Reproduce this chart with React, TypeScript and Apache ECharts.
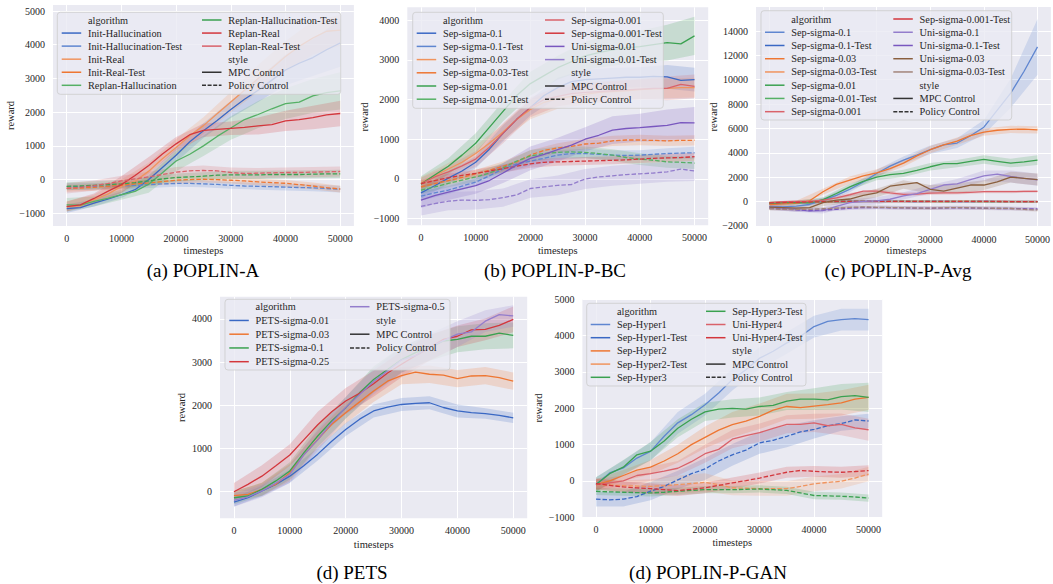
import React, { useEffect, useRef } from "react";
import * as echarts from "echarts";

// x positions of line samples and band samples
const XS = [0, 2500, 5000, 7500, 10000, 12500, 15000, 17500, 20000, 22500, 25000, 27500, 30000, 32500, 35000, 37500, 40000, 42500, 45000, 47500, 50000];
const XB = [0, 5000, 10000, 15000, 20000, 25000, 30000, 35000, 40000, 45000, 50000];
const X_TICKS = [0, 10000, 20000, 30000, 40000, 50000];

const A_Y_TICKS = [-1000, 0, 1000, 2000, 3000, 4000, 5000];
const B_Y_TICKS = [-1000, 0, 1000, 2000, 3000, 4000];
const C_Y_TICKS = [-2000, 0, 2000, 4000, 6000, 8000, 10000, 12000, 14000];
const D_Y_TICKS = [0, 1000, 2000, 3000, 4000];
const E_Y_TICKS = [-1000, 0, 1000, 2000, 3000, 4000, 5000];

// (a) POPLIN-A
const A_INIT_HALL = [-860, -830, -700, -580, -450, -300, 0, 360, 720, 1120, 1450, 1750, 2080, 2380, 2650, 2950, 3250, 3450, 3620, 3850, 4050];
const A_INIT_HALL_HW = [130, 100, 100, 150, 200, 220, 250, 350, 450, 550, 700];
const A_INIT_HALL_T = [-210, -210, -205, -200, -190, -175, -150, -130, -115, -115, -125, -145, -170, -190, -200, -210, -225, -235, -245, -265, -285];
const A_INIT_HALL_T_HW = [100, 100, 100, 100, 100, 100, 100, 100, 100, 100, 100];
const A_INIT_REAL = [-800, -780, -600, -430, -200, -50, 250, 620, 950, 1300, 1600, 1950, 2300, 2650, 3000, 3300, 3650, 3950, 4200, 4400, 4430];
const A_INIT_REAL_HW = [150, 150, 200, 250, 250, 250, 300, 400, 450, 500, 450];
const A_INIT_REAL_T = [-260, -250, -230, -200, -170, -130, -100, -60, -20, 0, 10, 0, -20, -40, -70, -90, -110, -150, -190, -240, -280];
const A_INIT_REAL_T_HW = [100, 100, 100, 100, 100, 100, 100, 100, 100, 100, 100];
const A_REPLAN_HALL = [-750, -760, -650, -560, -450, -350, -140, 200, 550, 750, 1000, 1280, 1530, 1780, 1930, 2100, 2250, 2300, 2480, 2580, 2630];
const A_REPLAN_HALL_HW = [200, 150, 150, 250, 300, 300, 350, 400, 450, 500, 550];
const A_REPLAN_HALL_T = [-200, -190, -170, -150, -130, -90, -40, 20, 60, 80, 100, 130, 140, 140, 140, 150, 150, 150, 160, 170, 170];
const A_REPLAN_HALL_T_HW = [120, 120, 120, 120, 120, 120, 120, 120, 120, 120, 120];
const A_REPLAN_REAL = [-800, -750, -560, -350, -150, 120, 420, 760, 1060, 1330, 1460, 1490, 1520, 1550, 1590, 1630, 1740, 1780, 1840, 1920, 1960];
const A_REPLAN_REAL_HW = [150, 150, 250, 250, 200, 200, 200, 250, 300, 350, 380];
const A_REPLAN_REAL_T = [-260, -230, -180, -120, -40, 20, 80, 150, 220, 260, 270, 260, 210, 180, 190, 200, 210, 210, 220, 230, 240];
const A_REPLAN_REAL_T_HW = [150, 150, 150, 150, 150, 150, 150, 150, 150, 150, 150];

// (b) POPLIN-P-BC
const B_S01 = [-350, -170, 20, 200, 420, 750, 1150, 1500, 1800, 2100, 2300, 2450, 2500, 2520, 2540, 2560, 2560, 2580, 2570, 2480, 2500];
const B_S01_HW = [150, 150, 150, 200, 200, 250, 250, 250, 250, 300, 300];
const B_S01_T = [-430, -350, -280, -180, -80, 80, 250, 380, 450, 520, 600, 640, 640, 620, 600, 590, 600, 620, 640, 650, 660];
const B_S01_T_HW = [120, 100, 100, 100, 120, 120, 120, 120, 120, 130, 150];
const B_S003 = [-100, 80, 250, 420, 640, 900, 1180, 1500, 1750, 1930, 2020, 2080, 2130, 2180, 2200, 2220, 2250, 2270, 2280, 2300, 2300];
const B_S003_HW = [150, 150, 200, 200, 250, 250, 250, 250, 250, 250, 250];
const B_S003_T = [-200, -120, -40, 40, 130, 220, 320, 430, 600, 720, 780, 820, 880, 900, 960, 980, 980, 970, 960, 970, 970];
const B_S003_T_HW = [100, 100, 100, 120, 120, 120, 130, 130, 130, 130, 130];
const B_S001 = [-130, 100, 320, 600, 900, 1300, 1700, 2100, 2400, 2600, 2800, 2950, 3100, 3180, 3250, 3300, 3330, 3380, 3430, 3400, 3600];
const B_S001_HW = [200, 200, 250, 250, 300, 300, 350, 400, 400, 450, 480];
const B_S001_T = [-280, -200, -110, -30, 50, 150, 280, 450, 580, 640, 670, 680, 670, 640, 600, 540, 500, 470, 430, 420, 400];
const B_S001_T_HW = [100, 100, 120, 120, 150, 150, 150, 150, 150, 150, 150];
const B_S0001 = [-120, 50, 180, 330, 500, 800, 1150, 1500, 1800, 2000, 2080, 2150, 2180, 2200, 2220, 2240, 2260, 2280, 2280, 2380, 2330];
const B_S0001_HW = [150, 150, 200, 250, 250, 250, 250, 250, 250, 300, 300];
const B_S0001_T = [-120, -40, 30, 90, 140, 200, 260, 320, 380, 420, 430, 440, 450, 460, 470, 480, 500, 520, 530, 540, 560];
const B_S0001_T_HW = [100, 100, 100, 100, 100, 100, 100, 100, 100, 100, 100];
const B_U001 = [-530, -420, -330, -250, -170, -40, 150, 350, 520, 620, 740, 850, 1000, 1100, 1230, 1270, 1290, 1320, 1350, 1420, 1410];
const B_U001_HW = [200, 200, 200, 250, 300, 300, 300, 350, 350, 400, 400];
const B_U001_T = [-690, -620, -560, -530, -540, -520, -470, -400, -240, -200, -160, -140, 0, 50, 80, 110, 130, 150, 180, 250, 200];
const B_U001_T_HW = [230, 230, 230, 230, 230, 250, 250, 250, 250, 250, 250];

// (c) POPLIN-P-Avg
const C_S01 = [-400, -450, -380, -250, 100, 500, 1000, 1600, 2300, 2900, 3400, 3800, 4250, 4650, 4800, 5400, 6100, 7500, 8900, 10700, 12700];
const C_S01_HW = [200, 200, 200, 250, 300, 300, 350, 400, 600, 1200, 2300];
const C_S01_T = [-200, -150, -100, -60, -30, -10, 0, 0, 10, 0, 0, -10, 0, 0, -10, -10, 0, -10, -10, -20, -20];
const C_S01_T_HW = [100, 100, 100, 100, 100, 100, 100, 100, 100, 100, 100];
const C_S003 = [-250, -200, -150, 50, 800, 1400, 1750, 2100, 2350, 2700, 3150, 3750, 4250, 4650, 4950, 5400, 5700, 5850, 5920, 5950, 5880];
const C_S003_HW = [200, 200, 250, 300, 300, 300, 300, 300, 300, 300, 300];
const C_S003_T = [-150, -120, -100, -80, -40, -20, -10, 0, 0, 10, 0, 0, -10, -10, 0, 0, -10, -10, -20, -20, -30];
const C_S003_T_HW = [100, 100, 100, 100, 100, 100, 100, 100, 100, 100, 100];
const C_S001 = [-150, -100, -100, -120, 150, 650, 1200, 1650, 2000, 2200, 2300, 2550, 2850, 3100, 3100, 3300, 3450, 3300, 3150, 3250, 3400];
const C_S001_HW = [150, 150, 200, 250, 250, 300, 300, 300, 350, 350, 400];
const C_S001_T = [-100, -80, -60, -50, -30, -10, 0, 10, 0, 0, 10, 0, 0, -10, 0, 0, -10, -10, -10, -20, -20];
const C_S001_T_HW = [100, 100, 100, 100, 100, 100, 100, 100, 100, 100, 100];
const C_S0001 = [-100, -20, 0, 0, 100, 300, 550, 850, 850, 700, 580, 600, 680, 700, 700, 750, 800, 800, 800, 820, 830];
const C_S0001_HW = [100, 100, 150, 150, 150, 150, 150, 120, 120, 120, 120];
const C_S0001_T = [-120, -90, -70, -50, -20, 0, 0, 0, 0, 0, 0, 0, 0, 0, 0, 0, 0, 0, -10, -10, -20];
const C_S0001_T_HW = [100, 100, 100, 100, 100, 100, 100, 100, 100, 100, 100];
const C_U01 = [-450, -500, -650, -800, -750, -400, -100, 0, 50, 180, 450, 650, 1000, 1350, 1450, 1800, 2100, 2250, 2050, 1900, 1780];
const C_U01_HW = [200, 200, 250, 300, 300, 300, 350, 400, 450, 500, 500];
const C_U01_T = [-550, -600, -700, -750, -700, -650, -550, -500, -500, -520, -530, -550, -560, -540, -530, -540, -560, -580, -580, -600, -620];
const C_U01_T_HW = [150, 150, 150, 150, 150, 150, 150, 150, 150, 150, 150];
const C_U003 = [-470, -500, -550, -500, -100, 100, 200, 500, 700, 1250, 1400, 1550, 1000, 850, 1100, 1350, 1350, 1600, 2000, 1900, 1800];
const C_U003_HW = [200, 200, 300, 300, 350, 350, 350, 400, 400, 450, 500];
const C_U003_T = [-600, -650, -650, -650, -600, -550, -480, -450, -480, -500, -520, -540, -550, -520, -500, -520, -550, -560, -580, -650, -700];
const C_U003_T_HW = [150, 150, 150, 150, 150, 150, 150, 150, 150, 150, 150];

// (d) PETS
const D_001 = [-240, -140, 16, 170, 360, 600, 870, 1170, 1440, 1680, 1870, 1960, 2020, 2045, 2060, 1950, 1870, 1830, 1810, 1770, 1710];
const D_001_HW = [100, 120, 150, 150, 150, 150, 150, 150, 150, 120, 120];
const D_003 = [-90, -60, 55, 170, 440, 860, 1210, 1560, 1830, 2080, 2330, 2560, 2690, 2770, 2720, 2700, 2620, 2680, 2690, 2640, 2560];
const D_003_HW = [100, 150, 200, 200, 250, 250, 200, 200, 200, 200, 200];
const D_01 = [-140, -100, 55, 250, 480, 900, 1290, 1640, 1940, 2290, 2600, 2830, 3060, 3220, 3330, 3490, 3530, 3600, 3600, 3670, 3620];
const D_01_HW = [150, 150, 200, 250, 250, 300, 300, 300, 300, 300, 300];
const D_025 = [0, 170, 360, 600, 850, 1200, 1550, 1850, 2100, 2280, 2500, 2750, 2950, 3150, 3330, 3530, 3600, 3750, 3760, 3850, 3990];
const D_025_HW = [200, 250, 250, 300, 300, 300, 300, 300, 250, 250, 300];
const D_05 = [-200, -120, 20, 200, 400, 850, 1200, 1600, 1950, 2250, 2550, 2800, 3050, 3150, 3350, 3500, 3650, 3700, 3950, 4100, 4070];
const D_05_HW = [150, 150, 200, 250, 250, 300, 300, 300, 300, 250, 250];

// (d) POPLIN-P-GAN
const E_H1 = [-100, 220, 360, 630, 815, 1230, 1600, 1825, 2100, 2420, 2790, 3060, 3380, 3570, 3800, 3980, 4250, 4390, 4440, 4470, 4440];
const E_H1_HW = [200, 200, 250, 300, 300, 300, 300, 300, 300, 300, 300];
const E_H1_T = [-500, -520, -500, -430, -280, -150, 30, 200, 330, 550, 720, 850, 1050, 1120, 1230, 1350, 1420, 1520, 1580, 1680, 1650];
const E_H1_T_HW = [200, 200, 250, 250, 300, 300, 300, 300, 250, 200, 200];
const E_H2 = [-100, 0, 150, 300, 380, 550, 750, 1000, 1200, 1400, 1550, 1650, 1780, 1950, 2050, 2020, 2060, 2100, 2150, 2250, 2300];
const E_H2_HW = [150, 150, 200, 250, 300, 350, 350, 350, 350, 350, 350];
const E_H2_T = [-100, -110, -130, -140, -150, -130, -100, -70, -40, -100, -190, -200, -210, -210, -210, -150, -80, -40, -10, 80, 190];
const E_H2_T_HW = [150, 150, 200, 250, 250, 200, 200, 200, 200, 200, 200];
const E_H3 = [-100, 200, 380, 720, 820, 1100, 1450, 1700, 1900, 1980, 2000, 1980, 2050, 2080, 2200, 2250, 2250, 2230, 2320, 2350, 2300];
const E_H3_HW = [200, 200, 250, 250, 250, 250, 250, 250, 300, 350, 400];
const E_H3_T = [-285, -300, -310, -320, -330, -310, -285, -260, -240, -240, -240, -230, -220, -240, -260, -330, -400, -410, -420, -440, -470];
const E_H3_T_HW = [100, 100, 100, 100, 100, 100, 100, 100, 100, 100, 100];
const E_U4 = [-100, -50, 0, 150, 200, 270, 350, 530, 750, 870, 1150, 1250, 1330, 1450, 1560, 1560, 1600, 1520, 1560, 1460, 1410];
const E_U4_HW = [150, 150, 200, 200, 250, 250, 250, 250, 250, 300, 300];
const E_U4_T = [-75, -120, -165, -190, -210, -240, -265, -230, -190, -120, -55, 10, 80, 160, 240, 290, 265, 250, 240, 260, 285];
const E_U4_T_HW = [150, 150, 150, 150, 150, 150, 150, 150, 150, 150, 150];

const BLUE = "#3a68c4", BLUE_L = "#5f86d0";
const ORANGE = "#ee7632", ORANGE_L = "#f0945e";
const GREEN = "#3aa150", GREEN_L = "#55b065";
const RED = "#d3363c", RED_L = "#d9626a";
const PURPLE = "#7957bf", PURPLE_L = "#937dcc";
const BROWN = "#8a5f3e", BROWN_L = "#a3857a";

const SERIF = "Liberation Serif";
const TXT = "#262626";

type Line = { name: string; color: string; dashed: boolean; y: number[]; hw: number[] | null };
type Panel = {
  grid: { left: number; top: number; width: number; height: number };
  ymin: number; ymax: number; yTicks: number[];
  lines: Line[];
  legend: { box: number[]; col1: number; col2: number; row0: number; step: number };
  yName: number[]; xName: number[];
  caption: { text: string; x: number; y: number };
};

const L = (name: string, color: string, dashed: boolean, y: number[], hw: number[] | null): Line => ({ name, color, dashed, y, hw });

const PANELS: Panel[] = [
  {
    grid: { left: 53, top: 5, width: 300.9, height: 221 }, ymin: -1377, ymax: 5178, yTicks: A_Y_TICKS,
    lines: [
      L("Init-Hallucination", BLUE, false, A_INIT_HALL, A_INIT_HALL_HW),
      L("Init-Hallucination-Test", BLUE_L, true, A_INIT_HALL_T, A_INIT_HALL_T_HW),
      L("Init-Real", ORANGE_L, false, A_INIT_REAL, A_INIT_REAL_HW),
      L("Init-Real-Test", ORANGE, true, A_INIT_REAL_T, A_INIT_REAL_T_HW),
      L("Replan-Hallucination", GREEN_L, false, A_REPLAN_HALL, A_REPLAN_HALL_HW),
      L("Replan-Hallucination-Test", GREEN, true, A_REPLAN_HALL_T, A_REPLAN_HALL_T_HW),
      L("Replan-Real", RED, false, A_REPLAN_REAL, A_REPLAN_REAL_HW),
      L("Replan-Real-Test", RED_L, true, A_REPLAN_REAL_T, A_REPLAN_REAL_T_HW),
    ],
    legend: { box: [57.3, 12.3, 283.4, 82], col1: 61.7, col2: 202, row0: 20, step: 13.06 },
    yName: [10, 115.5], xName: [203.4, 250], caption: { text: "(a) POPLIN-A", x: 203, y: 270 },
  },
  {
    grid: { left: 407.3, top: 7.3, width: 300.9, height: 218 }, ymin: -1166, ymax: 4320, yTicks: B_Y_TICKS,
    lines: [
      L("Sep-sigma-0.1", BLUE, false, B_S01, B_S01_HW),
      L("Sep-sigma-0.1-Test", BLUE_L, true, B_S01_T, B_S01_T_HW),
      L("Sep-sigma-0.03", ORANGE_L, false, B_S003, B_S003_HW),
      L("Sep-sigma-0.03-Test", ORANGE, true, B_S003_T, B_S003_T_HW),
      L("Sep-sigma-0.01", GREEN, false, B_S001, B_S001_HW),
      L("Sep-sigma-0.01-Test", GREEN_L, true, B_S001_T, B_S001_T_HW),
      L("Sep-sigma-0.001", RED_L, false, B_S0001, B_S0001_HW),
      L("Sep-sigma-0.001-Test", RED, true, B_S0001_T, B_S0001_T_HW),
      L("Uni-sigma-0.01", PURPLE, false, B_U001, B_U001_HW),
      L("Uni-sigma-0.01-Test", PURPLE_L, true, B_U001_T, B_U001_T_HW),
    ],
    legend: { box: [412.7, 12.3, 250.6, 96], col1: 416.7, col2: 545, row0: 20, step: 13.2 },
    yName: [364, 117], xName: [557.75, 250], caption: { text: "(b) POPLIN-P-BC", x: 555, y: 270 },
  },
  {
    grid: { left: 756, top: 7, width: 300.9, height: 220 }, ymin: -2100, ymax: 15977, yTicks: C_Y_TICKS,
    lines: [
      L("Sep-sigma-0.1", BLUE_L, false, C_S01, C_S01_HW),
      L("Sep-sigma-0.1-Test", BLUE, true, C_S01_T, C_S01_T_HW),
      L("Sep-sigma-0.03", ORANGE, false, C_S003, C_S003_HW),
      L("Sep-sigma-0.03-Test", ORANGE_L, true, C_S003_T, C_S003_T_HW),
      L("Sep-sigma-0.01", GREEN, false, C_S001, C_S001_HW),
      L("Sep-sigma-0.01-Test", GREEN_L, true, C_S001_T, C_S001_T_HW),
      L("Sep-sigma-0.001", RED_L, false, C_S0001, C_S0001_HW),
      L("Sep-sigma-0.001-Test", RED, true, C_S0001_T, C_S0001_T_HW),
      L("Uni-sigma-0.1", PURPLE_L, false, C_U01, C_U01_HW),
      L("Uni-sigma-0.1-Test", PURPLE, true, C_U01_T, C_U01_T_HW),
      L("Uni-sigma-0.03", BROWN, false, C_U003, C_U003_HW),
      L("Uni-sigma-0.03-Test", BROWN_L, true, C_U003_T, C_U003_T_HW),
    ],
    legend: { box: [761, 10.7, 250.7, 109.3], col1: 765, col2: 893.3, row0: 19, step: 13.24 },
    yName: [713, 117], xName: [906.4, 250], caption: { text: "(c) POPLIN-P-Avg", x: 898, y: 270 },
  },
  {
    grid: { left: 220, top: 296.7, width: 307.2, height: 221.6 }, ymin: -616, ymax: 4516, yTicks: D_Y_TICKS,
    lines: [
      L("PETS-sigma-0.01", BLUE, false, D_001, D_001_HW),
      L("PETS-sigma-0.03", ORANGE, false, D_003, D_003_HW),
      L("PETS-sigma-0.1", GREEN, false, D_01, D_01_HW),
      L("PETS-sigma-0.25", RED, false, D_025, D_025_HW),
      L("PETS-sigma-0.5", PURPLE_L, false, D_05, D_05_HW),
    ],
    legend: { box: [225, 299.3, 225, 70.7], col1: 229.3, col2: 350, row0: 306.7, step: 13.75 },
    yName: [181.7, 407.5], xName: [373.7, 544], caption: { text: "(d) PETS", x: 352, y: 572 },
  },
  {
    grid: { left: 582.4, top: 299.3, width: 299.8, height: 218 }, ymin: -1000, ymax: 5000, yTicks: E_Y_TICKS,
    lines: [
      L("Sep-Hyper1", BLUE_L, false, E_H1, E_H1_HW),
      L("Sep-Hyper1-Test", BLUE, true, E_H1_T, E_H1_T_HW),
      L("Sep-Hyper2", ORANGE, false, E_H2, E_H2_HW),
      L("Sep-Hyper2-Test", ORANGE_L, true, E_H2_T, E_H2_T_HW),
      L("Sep-Hyper3", GREEN, false, E_H3, E_H3_HW),
      L("Sep-Hyper3-Test", GREEN, true, E_H3_T, E_H3_T_HW),
      L("Uni-Hyper4", RED_L, false, E_U4, E_U4_HW),
      L("Uni-Hyper4-Test", RED, true, E_U4_T, E_U4_T_HW),
    ],
    legend: { box: [586.7, 303.3, 219.3, 82.7], col1: 590.7, col2: 706, row0: 311.3, step: 13.2 },
    yName: [538.3, 408], xName: [732.25, 542], caption: { text: "(d) POPLIN-P-GAN", x: 708, y: 572 },
  },
];

const fmtY = (v: number) => (v < 0 ? "\u2212" + Math.abs(v) : String(v));
const fmtX = (v: number) => String(v);

function textEl(text: string, x: number, y: number, size: number, opts: any = {}) {
  return {
    type: "text", x, y, z: 100, rotation: opts.rotation || 0,
    style: {
      text, fontSize: size, fontFamily: SERIF, fill: opts.fill || TXT,
      font: size + "px " + SERIF,
      align: opts.align || "left", textAlign: opts.align || "left",
      verticalAlign: "middle", textVerticalAlign: "middle",
    },
  };
}

function buildOption() {
  const grids: any[] = [], xAxes: any[] = [], yAxes: any[] = [], series: any[] = [], graphics: any[] = [];
  PANELS.forEach((p, gi) => {
    grids.push({ ...p.grid, show: true, backgroundColor: "#EAEAF2", borderWidth: 0, containLabel: false });
    xAxes.push({
      type: "value", gridIndex: gi, min: -2500, max: 52500,
      axisLine: { show: false }, axisTick: { show: false, customValues: X_TICKS },
      axisLabel: { customValues: X_TICKS, color: TXT, fontFamily: SERIF, fontSize: 10, margin: 7, formatter: fmtX },
      splitLine: { show: true, lineStyle: { color: "#ffffff", width: 1 } },
    });
    yAxes.push({
      type: "value", gridIndex: gi, min: p.ymin, max: p.ymax,
      axisLine: { show: false }, axisTick: { show: false, customValues: p.yTicks },
      axisLabel: { customValues: p.yTicks, color: TXT, fontFamily: SERIF, fontSize: 10, margin: 8, formatter: fmtY },
      splitLine: { show: true, lineStyle: { color: "#ffffff", width: 1 } },
    });
    p.lines.forEach((s) => {
      if (s.hw) {
        const hw = s.hw;
        const pts = XB.map((x, k) => [x, s.y[2 * k] - hw[k], s.y[2 * k] + hw[k]]);
        series.push({
          type: "custom", xAxisIndex: gi, yAxisIndex: gi, silent: true, clip: true,
          data: pts, encode: { x: 0, y: [1, 2] },
          renderItem: (params: any, api: any) => {
            if (params.dataIndexInside !== 0) return null;
            const up = pts.map((q) => api.coord([q[0], q[2]]));
            const lo = pts.map((q) => api.coord([q[0], q[1]])).reverse();
            return { type: "polygon", shape: { points: up.concat(lo) }, style: { fill: s.color, opacity: 0.2 } };
          },
        });
      }
      series.push({
        type: "line", xAxisIndex: gi, yAxisIndex: gi, silent: true, clip: true,
        data: XS.map((x, i) => [x, s.y[i]]), showSymbol: false, symbol: "none",
        lineStyle: { color: s.color, width: 1.3, type: s.dashed ? [4.5, 2] : "solid" },
        itemStyle: { color: s.color },
      });
    });
    // axis names and caption
    graphics.push(textEl("reward", p.yName[0], p.yName[1], 10.5, { rotation: Math.PI / 2, align: "center" }));
    graphics.push(textEl("timesteps", p.xName[0], p.xName[1], 10.5, { align: "center" }));
    graphics.push(textEl(p.caption.text, p.caption.x, p.caption.y, 19, { align: "center", fill: "#000" }));
    // legend
    const lg = p.legend;
    graphics.push({
      type: "rect", z: 99,
      shape: { x: lg.box[0], y: lg.box[1], width: lg.box[2], height: lg.box[3], r: 3 },
      style: { fill: "rgba(234,234,242,0.8)", stroke: "rgba(204,204,204,0.8)", lineWidth: 1 },
    });
    const entries: any[] = [{ label: "algorithm", header: true }];
    p.lines.forEach((s) => entries.push({ label: s.name, color: s.color, dashed: false }));
    entries.push({ label: "style", header: true });
    entries.push({ label: "MPC Control", color: "#333333", dashed: false });
    entries.push({ label: "Policy Control", color: "#333333", dashed: true });
    const half = Math.ceil(entries.length / 2);
    entries.forEach((e, idx) => {
      const col = idx < half ? 0 : 1;
      const row = col === 0 ? idx : idx - half;
      const lx = col === 0 ? lg.col1 : lg.col2;
      const ry = lg.row0 + row * lg.step;
      if (!e.header) {
        graphics.push({
          type: "line", z: 100,
          shape: { x1: lx, y1: ry, x2: lx + 19.5, y2: ry },
          style: { stroke: e.color, lineWidth: 1.5, lineDash: e.dashed ? [4, 1.6] : null },
        });
      }
      graphics.push(textEl(e.label, lx + 26.3, ry, 10.3));
    });
  });
  return {
    animation: false,
    textStyle: { fontFamily: SERIF },
    grid: grids, xAxis: xAxes, yAxis: yAxes, series,
    graphic: { elements: graphics },
  };
}

export default function App() {
  const ref = useRef<HTMLDivElement>(null);
  useEffect(() => {
    if (!ref.current) return;
    const chart = echarts.init(ref.current, null, { renderer: "svg" });
    chart.setOption(buildOption() as any);
    return () => chart.dispose();
  }, []);
  return (
    <div
      ref={ref}
      style={{ position: "fixed", left: 0, top: 0, width: 1053, height: 584, background: "#ffffff" }}
    />
  );
}
